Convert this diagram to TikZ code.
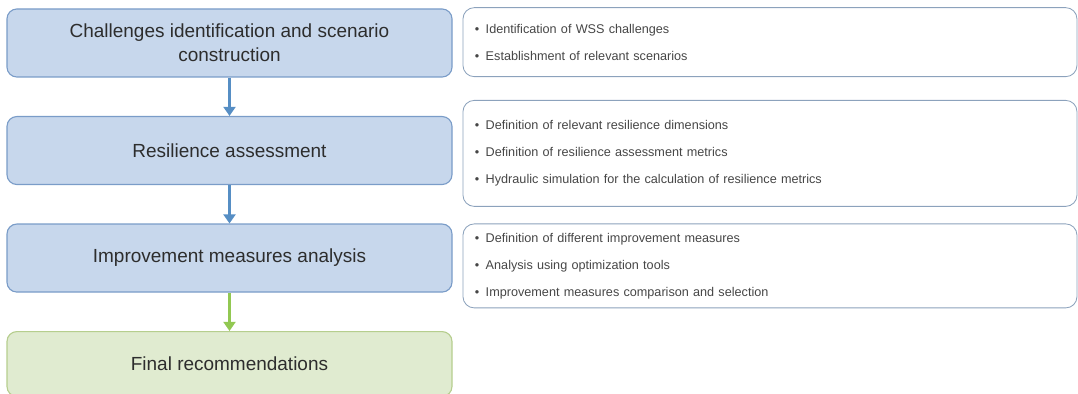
\documentclass[tikz,border=0pt]{standalone}
\usepackage{fontspec}
\setmainfont{Liberation Sans}
\usetikzlibrary{positioning,arrows.meta,calc}

\definecolor{stepfill}{RGB}{199,215,236}
\definecolor{stepline}{RGB}{122,156,200}
\definecolor{endfill}{RGB}{224,235,208}
\definecolor{endline}{RGB}{182,206,142}
\definecolor{bluearrow}{RGB}{86,142,196}
\definecolor{greenarrow}{RGB}{146,200,82}
\definecolor{listline}{RGB}{140,162,188}
\definecolor{txt}{RGB}{45,45,45}
\definecolor{listtxt}{RGB}{70,70,70}

\begin{document}
\begin{tikzpicture}[
		stage/.style={draw=stepline, fill=stepfill, line width=0.8pt, rounded corners=7pt,
			minimum width=11.125cm, minimum height=1.7cm, text width=9.8cm, align=flush center,
			text=txt, font=\fontsize{13.5}{17}\selectfont},
		final/.style={stage, draw=endline, fill=endfill, minimum height=1.62cm},
		tasks/.style={draw=listline, line width=0.6pt, rounded corners=8pt, anchor=north west,
			minimum width=15.35cm, text width=14.75cm, align=left, inner xsep=0.3cm,
			text=listtxt, font=\fontsize{9}{19.2}\selectfont},
		flow/.style={line width=2pt, -{Triangle[width=8.5pt,length=6.5pt]}}
	]
	\useasboundingbox (0,0) rectangle (26.95,-9.85);

	% left column
	\node [stage] (challenges) at (5.7375,-1.075) {Challenges identification and scenario construction};
	\node [stage, below=0.96cm of challenges] (assessment) {Resilience assessment};
	\node [stage, below=0.96cm of assessment] (measures) {Improvement measures analysis};
	\node [final, below=0.96cm of measures] (recommend) {Final recommendations};

	\draw [flow, bluearrow] (challenges) -- (assessment);
	\draw [flow, bluearrow] (assessment) -- (measures);
	\draw [flow, greenarrow] (measures) -- (recommend);

	% right column
	\node [tasks, minimum height=1.725cm] (challengesList) at ($(challenges.north east)+(0.25,0.03)$)
		{\textbullet\hspace{0.5em}Identification of WSS challenges\\
		 \textbullet\hspace{0.5em}Establishment of relevant scenarios};
	\node [tasks, minimum height=2.65cm] (assessmentList) at ($(assessment.north east)+(0.25,0.4)$)
		{\textbullet\hspace{0.5em}Definition of relevant resilience dimensions\\
		 \textbullet\hspace{0.5em}Definition of resilience assessment metrics\\
		 \textbullet\hspace{0.5em}Hydraulic simulation for the calculation of resilience metrics};
	\node [tasks, minimum height=2.1cm] (measuresList) at ($(measures.north east)+(0.25,0)$)
		{\textbullet\hspace{0.5em}Definition of different improvement measures\\
		 \textbullet\hspace{0.5em}Analysis using optimization tools\\
		 \textbullet\hspace{0.5em}Improvement measures comparison and selection};
\end{tikzpicture}
\end{document}
